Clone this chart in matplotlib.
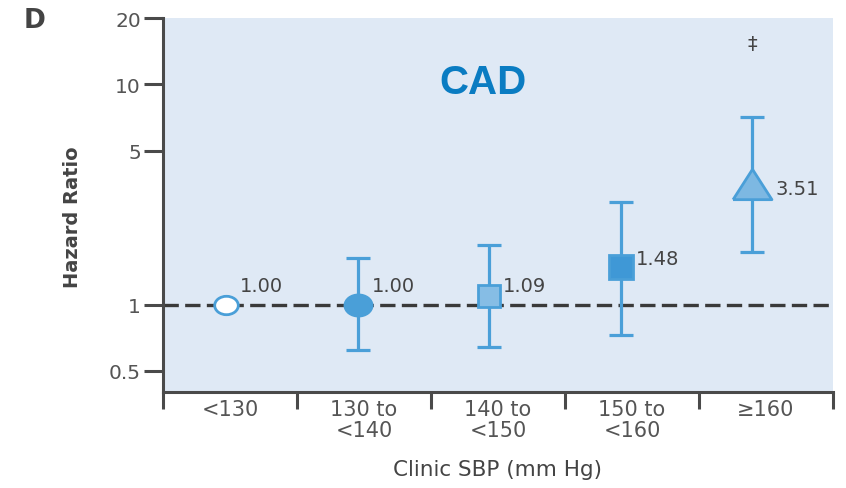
import matplotlib
matplotlib.use("Agg")
import matplotlib.pyplot as plt
from matplotlib.path import Path
import numpy as np

# Clinic SBP categories and hazard ratios for CAD
categories = ["<130", "130 to\n<140", "140 to\n<150", "150 to\n<160", "\u2265160"]
hazard_ratio = [1.00, 1.00, 1.09, 1.48, 3.51]
ci_lower = [np.nan, 0.62, 0.64, 0.73, 1.74]
ci_upper = [np.nan, 1.62, 1.87, 2.91, 7.08]
value_labels = ["1.00", "1.00", "1.09", "1.48", "3.51"]
y_ticks = [0.5, 1, 5, 10, 20]
y_tick_labels = ["0.5", "1", "5", "10", "20"]
significance_mark = "\u2021"
significance_y = 15.4

# styling
bg = "#dfe9f5"
blue = "#4a9fd8"
spine_col = "#4a4a4a"
text_col = "#555555"
plt.rcParams["font.family"] = ["DejaVu Sans"]

# slightly flattened circle and a wide triangle
circ = Path.unit_circle()
ellipse = Path(circ.vertices * np.array([1.0, 0.78]), circ.codes)
wide_tri = [(-1.0, -0.78), (1.0, -0.78), (0.0, 0.78), (-1.0, -0.78)]

markers = [ellipse, ellipse, "s", "s", wide_tri]
face_cols = ["white", "#4a9fd8", "#86bde5", "#3f98d6", "#7db8e2"]
msizes = [17, 19.5, 16, 17, 28]
label_offsets = [(10, 14), (10, 14), (10, 8), (11, 6), (17, -3)]

fig = plt.figure(figsize=(8.46, 4.89), dpi=100)
ax = fig.add_axes([0.1927, 0.196, 0.7919, 0.765])
ax.set_facecolor(bg)
ax.set_yscale("log")
ax.set_ylim(0.40, 20)
ax.set_xlim(-0.5, 4.5)

# reference line at HR = 1
ax.axhline(1.0, color="#3a3a3a", lw=2.4, ls=(0, (4.6, 1.9)), zorder=2)

# markers sit a little left of each category centre
x = np.arange(len(categories)) * 0.982 - 0.03
for i in range(len(categories)):
    if not np.isnan(ci_lower[i]):
        ax.errorbar(x[i], hazard_ratio[i],
                    yerr=[[hazard_ratio[i] - ci_lower[i]], [ci_upper[i] - hazard_ratio[i]]],
                    fmt="none", ecolor=blue, elinewidth=2.3, capsize=8.5, capthick=2.3,
                    zorder=3)
    ax.plot(x[i], hazard_ratio[i], marker=markers[i], ms=msizes[i],
            mfc=face_cols[i], mec=blue, mew=2.0, ls="none", zorder=4)
    ax.annotate(value_labels[i], (x[i], hazard_ratio[i]), xytext=label_offsets[i],
                textcoords="offset points", ha="left", va="center",
                fontsize=14, color="#444444", zorder=5)

ax.text(x[4], significance_y, significance_mark, ha="center", va="center",
        fontsize=14, color="#444444")

ax.text(0.478, 0.828, "CAD", transform=ax.transAxes, ha="center", va="center",
        fontsize=29, fontweight="bold", color="#0a7cc2",
        family=["Liberation Sans", "DejaVu Sans"])

# spines
for s in ["top", "right"]:
    ax.spines[s].set_visible(False)
for s in ["left", "bottom"]:
    ax.spines[s].set_color(spine_col)
    ax.spines[s].set_linewidth(2.2)

ax.set_yticks(y_ticks)
ax.set_yticklabels(y_tick_labels)
ax.yaxis.set_minor_locator(matplotlib.ticker.NullLocator())
ax.tick_params(axis="y", which="major", length=14, width=2.2, color=spine_col,
               labelsize=14.5, labelcolor=text_col, pad=2)

# category boundaries as major ticks, labels at category centres
ax.set_xticks(np.arange(-0.5, 5.0, 1.0))
ax.set_xticklabels([""] * 6)
ax.set_xticks(np.arange(len(categories)), minor=True)
ax.set_xticklabels(categories, minor=True, linespacing=1.05)
ax.tick_params(axis="x", which="major", length=12, width=2.2, color=spine_col,
               direction="out")
ax.tick_params(axis="x", which="minor", length=0, labelsize=15,
               labelcolor=text_col, pad=5)

ax.set_ylabel("Hazard Ratio", fontsize=14, fontweight="bold", color="#444444",
              labelpad=19)
ax.yaxis.label.set_y(0.47)
ax.set_xlabel("Clinic SBP (mm Hg)", fontsize=15.5, color="#444444", labelpad=14)

fig.text(0.041, 0.958, "D", fontsize=19, fontweight="bold", color="#444444",
         ha="center", va="center")

fig.savefig("out.png", dpi=100, facecolor="white")
